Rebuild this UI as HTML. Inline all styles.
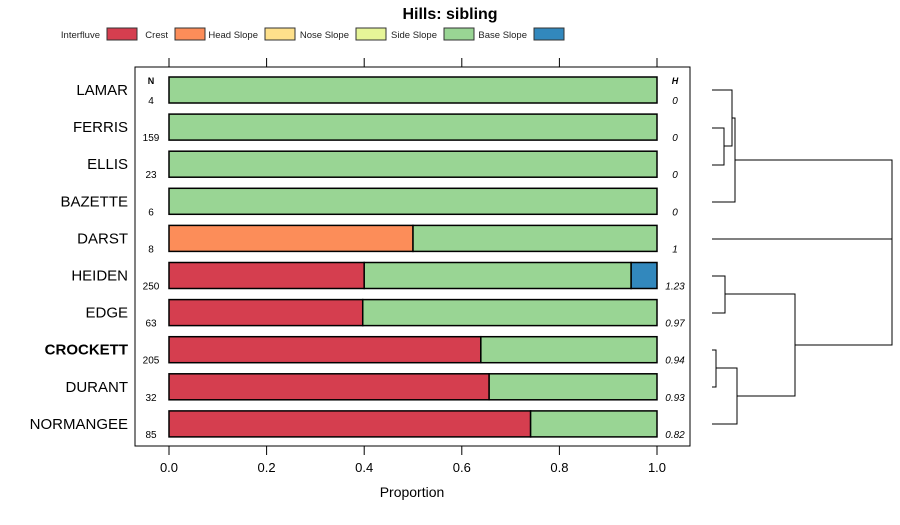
<!DOCTYPE html>
<html><head><meta charset="utf-8"><style>
body{margin:0;background:#fff;font-family:"Liberation Sans",sans-serif}
svg text{font-family:"Liberation Sans",sans-serif}
</style></head><body>
<svg id="c" width="900" height="520">
<text x="450" y="19" text-anchor="middle" font-weight="bold" font-size="16">Hills: sibling</text>
<g id="legend"></g>
<rect x="135" y="67" width="555" height="379" fill="none" stroke="#000"/>
<g id="bars"></g>
<g id="axis"></g>
<text x="412" y="497" text-anchor="middle" font-size="14">Proportion</text>
<text x="151" y="84" text-anchor="middle" font-size="9" font-weight="bold">N</text>
<text x="675" y="84" text-anchor="middle" font-size="9" font-weight="bold" font-style="italic">H</text>
<g fill="none" stroke="#000" stroke-width="1">
<path d="M712,128H724V165H712M712,90H732V146H724M732,118H735V202H712M735,160H892V345H795M712,239H892"/>
<path d="M712,276H725V313H712M712,350H716V387H712M716,368H737V424H712M725,294H795V396H737"/>
</g>
</svg>
<script>
const classes=["Interfluve","Crest","Head Slope","Nose Slope","Side Slope","Base Slope"];
const colors=["#d53e4f","#fc8d59","#fee08b","#e6f598","#99d594","#3288bd"];
const series=["LAMAR","FERRIS","ELLIS","BAZETTE","DARST","HEIDEN","EDGE","CROCKETT","DURANT","NORMANGEE"];
const nVals=[4,159,23,6,8,250,63,205,32,85];
const hVals=["0","0","0","0","1","1.23","0.97","0.94","0.93","0.82"];
const interfluve=[0,0,0,0,0,0.40,0.397,0.639,0.656,0.741];
const crest=[0,0,0,0,0.5,0,0,0,0,0];
const headSlope=[0,0,0,0,0,0,0,0,0,0];
const noseSlope=[0,0,0,0,0,0,0,0,0,0];
const sideSlope=[1,1,1,1,0.5,0.547,0.603,0.361,0.344,0.259];
const baseSlope=[0,0,0,0,0,0.053,0,0,0,0];
const ticks=[0,0.2,0.4,0.6,0.8,1.0];
const tickLabels=["0.0","0.2","0.4","0.6","0.8","1.0"];
const NS="http://www.w3.org/2000/svg";
const x=v=>169+v*488;
const y=i=>90+i*37.1;
function mk(t,a,p){const e=document.createElementNS(NS,t);for(const k in a)e.setAttribute(k,a[k]);p.appendChild(e);return e;}
const leg=document.getElementById('legend');
const legBox=[107,175,265,356,444,534];
classes.forEach((c,i)=>{
 const t=mk('text',{x:legBox[i]-7,y:38,'text-anchor':'end','font-size':9.5,fill:'#222'},leg);t.textContent=c;
 
 
 const r=mk('rect',{x:legBox[i],y:28,width:30,height:12,fill:colors[i],stroke:'#333'},leg);
 
 
});
const bars=document.getElementById('bars');
const all=[interfluve,crest,headSlope,noseSlope,sideSlope,baseSlope];
series.forEach((s,i)=>{
 const cy=y(i);let acc=0;
 all.forEach((arr,k)=>{const v=arr[i];if(v>0){
  const r=mk('rect',{x:x(acc),y:cy-13,width:x(acc+v)-x(acc),height:26,fill:colors[k],stroke:'#000','stroke-width':1.5},bars);
  
  
  acc+=v;}});
 const b=s==="CROCKETT";
 const l=mk('text',{x:128,y:cy+5,'text-anchor':'end','font-size':15,'font-weight':b?'bold':'normal'},bars);l.textContent=s;
 
 
 const n=mk('text',{x:151,y:cy+14,'text-anchor':'middle','font-size':10},bars);n.textContent=nVals[i];
 
 
 const h=mk('text',{x:675,y:cy+14,'text-anchor':'middle','font-size':10,'font-style':'italic'},bars);h.textContent=hVals[i];
 
 
});
const ax=document.getElementById('axis');
ticks.forEach((t,i)=>{
 mk('line',{x1:x(t),x2:x(t),y1:58,y2:67,stroke:'#000'},ax);
 mk('line',{x1:x(t),x2:x(t),y1:446,y2:455,stroke:'#000'},ax);
 const tx=mk('text',{x:x(t),y:472,'text-anchor':'middle','font-size':13},ax);tx.textContent=tickLabels[i];
 
 
});
</script>
</body></html>
